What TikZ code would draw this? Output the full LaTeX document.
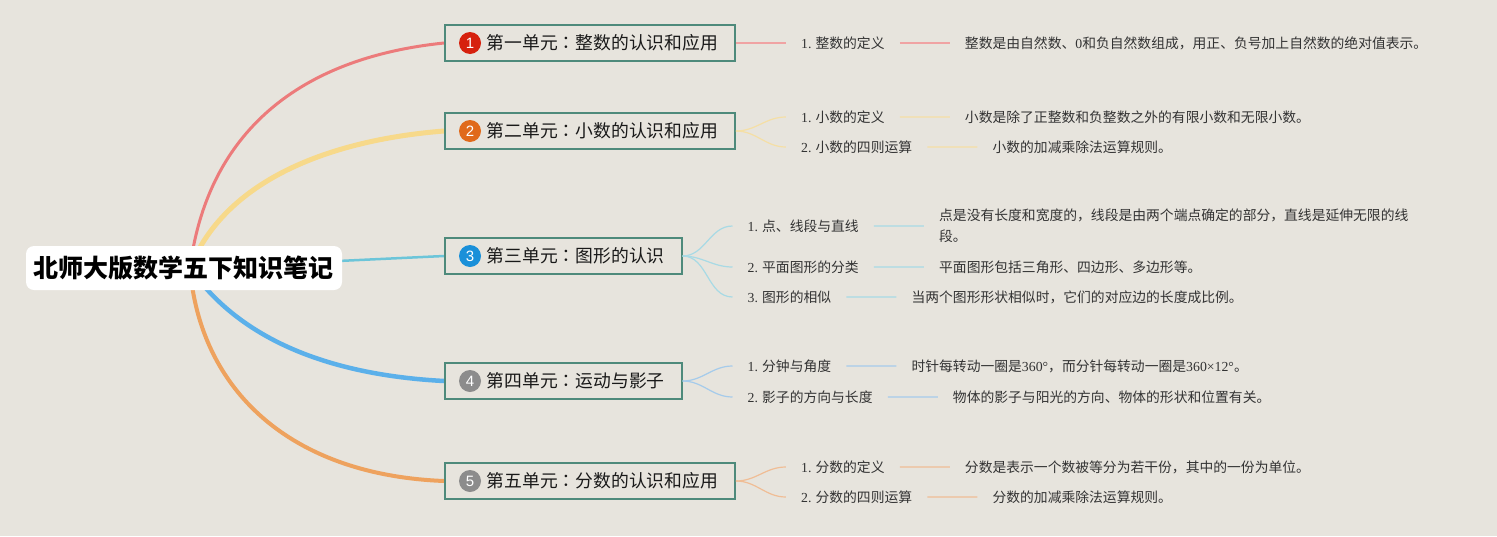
\documentclass[tikz,border=0pt]{standalone}
\usepackage{fontspec}
\setmainfont{Noto Sans CJK SC}
\newfontfamily\lat{Liberation Serif}
\newfontfamily\dig{Liberation Sans}
\newfontfamily\tc{Noto Sans CJK TC}
\newcommand\mh{{\tc ：}}
\usetikzlibrary{positioning,backgrounds}

\definecolor{bg}{HTML}{E7E4DD}
\definecolor{boxc}{HTML}{4E8A7B}
\definecolor{txt}{HTML}{333333}
\definecolor{numA}{HTML}{D6210E}
\definecolor{numB}{HTML}{E06A1B}
\definecolor{numC}{HTML}{1A90D9}
\definecolor{numD}{HTML}{8C8C8C}
\definecolor{trA}{HTML}{EC7B7B}
\definecolor{trB}{HTML}{F7D98A}
\definecolor{trC}{HTML}{6CC5D9}
\definecolor{trD}{HTML}{5BB0EA}
\definecolor{trE}{HTML}{EEA25E}
\definecolor{twA}{HTML}{F0A3A3}
\definecolor{twB}{HTML}{F5DFA5}
\definecolor{twC}{HTML}{A8DAE5}
\definecolor{twD}{HTML}{A5CBEB}
\definecolor{twE}{HTML}{F0BD95}

\tikzstyle{root} = [fill=white, rounded corners=8pt, minimum width=316pt, minimum height=44pt, inner sep=0pt, font=\fontsize{25}{28}\selectfont\bfseries]
\tikzstyle{chap} = [draw=boxc, line width=1.5pt, fill=bg, anchor=west, minimum height=36pt, inner xsep=17pt, inner ysep=0pt, text=black!90, font=\fontsize{17.8}{20}\selectfont, execute at begin node={\hspace*{25pt}}]
\tikzstyle{num} = [circle, minimum size=22pt, inner sep=0pt, text=white, font=\dig\fontsize{15}{15}\selectfont]
\tikzstyle{sub} = [inner xsep=15pt, inner ysep=2pt, text=txt, font=\fontsize{13.8}{21}\selectfont]
\tikzstyle{detail} = [sub, align=left]
\tikzstyle{trunk} = [line cap=round]
\tikzstyle{twig} = [line width=1.2pt]

\begin{document}
\begin{tikzpicture}[x=1pt, y=-1pt]
\useasboundingbox (0,0) rectangle (1497,536);
\node[root] (root) at (184,268) {北师大版数学五下知识笔记};
\coordinate (hub) at (190,268);

\node[chap] (c1) at (444,43) {第一单元\mh 整数的认识和应用};
\node[chap] (c2) at (444,131) {第二单元\mh 小数的认识和应用};
\node[chap] (c3) at (444,256) {第三单元\mh 图形的认识};
\node[chap] (c4) at (444,381) {第四单元\mh 运动与影子};
\node[chap] (c5) at (444,481) {第五单元\mh 分数的认识和应用};
\foreach \i/\c in {1/numA,2/numB,3/numC,4/numD,5/numD}
    \node[num, fill=\c] (n\i) at ([xshift=26pt]c\i.west) {\i};

\node[sub, right=50pt of c1] (s11) {{\lat 1.} 整数的定义};
\node[sub, right=50pt of s11] (d11) {整数是由自然数、{\lat 0}和负自然数组成，用正、负号加上自然数的绝对值表示。};

\node[sub, right=50pt of c2, yshift=14pt] (s21) {{\lat 1.} 小数的定义};
\node[sub, right=50pt of c2, yshift=-16pt] (s22) {{\lat 2.} 小数的四则运算};
\node[sub, right=50pt of s21] (d21) {小数是除了正整数和负整数之外的有限小数和无限小数。};
\node[sub, right=50pt of s22] (d22) {小数的加减乘除法运算规则。};

\node[sub, right=50pt of c3, yshift=30pt] (s31) {{\lat 1.} 点、线段与直线};
\node[sub, right=50pt of c3, yshift=-11pt] (s32) {{\lat 2.} 平面图形的分类};
\node[sub, right=50pt of c3, yshift=-41pt] (s33) {{\lat 3.} 图形的相似};
\node[detail, right=50pt of s31] (d31) {点是没有长度和宽度的，线段是由两个端点确定的部分，直线是延伸无限的线\\段。};
\node[sub, right=50pt of s32] (d32) {平面图形包括三角形、四边形、多边形等。};
\node[sub, right=50pt of s33] (d33) {当两个图形形状相似时，它们的对应边的长度成比例。};

\node[sub, right=50pt of c4, yshift=15pt] (s41) {{\lat 1.} 分钟与角度};
\node[sub, right=50pt of c4, yshift=-16pt] (s42) {{\lat 2.} 影子的方向与长度};
\node[sub, right=50pt of s41] (d41) {时针每转动一圈是{\lat 360°}，而分针每转动一圈是{\lat 360×12°}。};
\node[sub, right=50pt of s42] (d42) {物体的影子与阳光的方向、物体的形状和位置有关。};

\node[sub, right=50pt of c5, yshift=14pt] (s51) {{\lat 1.} 分数的定义};
\node[sub, right=50pt of c5, yshift=-16pt] (s52) {{\lat 2.} 分数的四则运算};
\node[sub, right=50pt of s51] (d51) {分数是表示一个数被等分为若干份，其中的一份为单位。};
\node[sub, right=50pt of s52] (d52) {分数的加减乘除法运算规则。};

\foreach \u/\t/\c in {1/1/twA, 2/1/twB, 2/2/twB, 3/1/twC, 3/2/twC, 3/3/twC, 4/1/twD, 4/2/twD, 5/1/twE, 5/2/twE}
    \draw[twig, \c] (c\u.east) to[out=0, in=180] (s\u\t.west) (s\u\t.east) -- (d\u\t.west);

\begin{scope}[on background layer]
\fill[bg] (0,0) rectangle (1497,536);
\draw[trunk, trA, line width=3pt] (hub) .. controls (205,150) and (280,60) .. (c1.west);
\draw[trunk, trB, line width=5pt] (hub) .. controls (225,180) and (330,140) .. (c2.west);
\draw[trunk, trC, line width=2.5pt] (hub) -- (c3.west);
\draw[trunk, trD, line width=4.5pt] (hub) .. controls (240,340) and (330,375) .. (c4.west);
\draw[trunk, trE, line width=4pt] (hub) .. controls (200,390) and (290,475) .. (c5.west);
\end{scope}
\end{tikzpicture}
\end{document}
